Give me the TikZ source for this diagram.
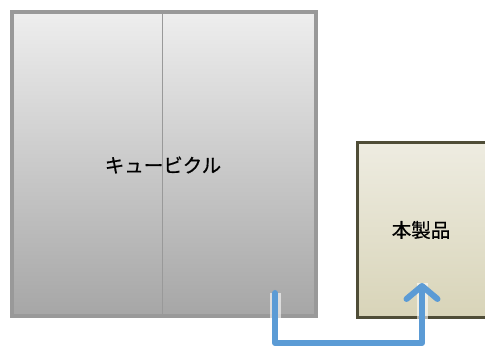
\documentclass[tikz,border=0pt]{standalone}
\usepackage{fontspec}
\usepackage{xcolor}
\usepackage{tikz}
\usetikzlibrary{arrows.meta, positioning, calc}
\newfontfamily\jpfont[FakeBold=0.6]{Noto Sans CJK JP}
\definecolor{cubgray}{HTML}{999999}
\definecolor{cubtop}{HTML}{EEEEEE}
\definecolor{cubbot}{HTML}{A6A6A6}
\definecolor{prodedge}{HTML}{4F4D37}
\definecolor{prodtop}{HTML}{EEECE1}
\definecolor{prodbot}{HTML}{D8D4B8}
\definecolor{flowblue}{HTML}{5B9BD5}

\begin{document}
\begin{tikzpicture}[x=1pt,y=1pt,
  boxlabel/.style={font=\jpfont\fontsize{19.5}{21}\selectfont},
  flow/.style={line width=6pt,flowblue,line cap=round,line join=round,
    -{Straight Barb[length=13pt,width=31pt,line cap=round,line join=round]},
    preaction={draw,white,opacity=0.6,line width=11pt,-}}]
\useasboundingbox (0,0) rectangle (485,347);
\clip (0,0) rectangle (485,347);
% Cubicle
\shade[top color=cubtop,bottom color=cubbot] (12,31) rectangle (316,335);
\draw[cubgray,line width=4pt] (12,31) rectangle (316,335);
\draw[cubgray,line width=1pt] (162,33) -- (162,333);
\node[boxlabel] (cubicle) at (163,182) {キュービクル};
% Product
\shade[top color=prodtop,bottom color=prodbot] (357,29) rectangle (495,204);
\draw[prodedge,line width=3pt] (495,29) -- (357,29) -- (357,204) -- (495,204);
\node[boxlabel] (product) at (421,117) {本製品};
% Flow
\coordinate (out) at (275,54);
\coordinate (in) at (422,64);
\draw[flow] (out) -- (275,4) -- (422,4) -- (in);
\end{tikzpicture}
\end{document}
